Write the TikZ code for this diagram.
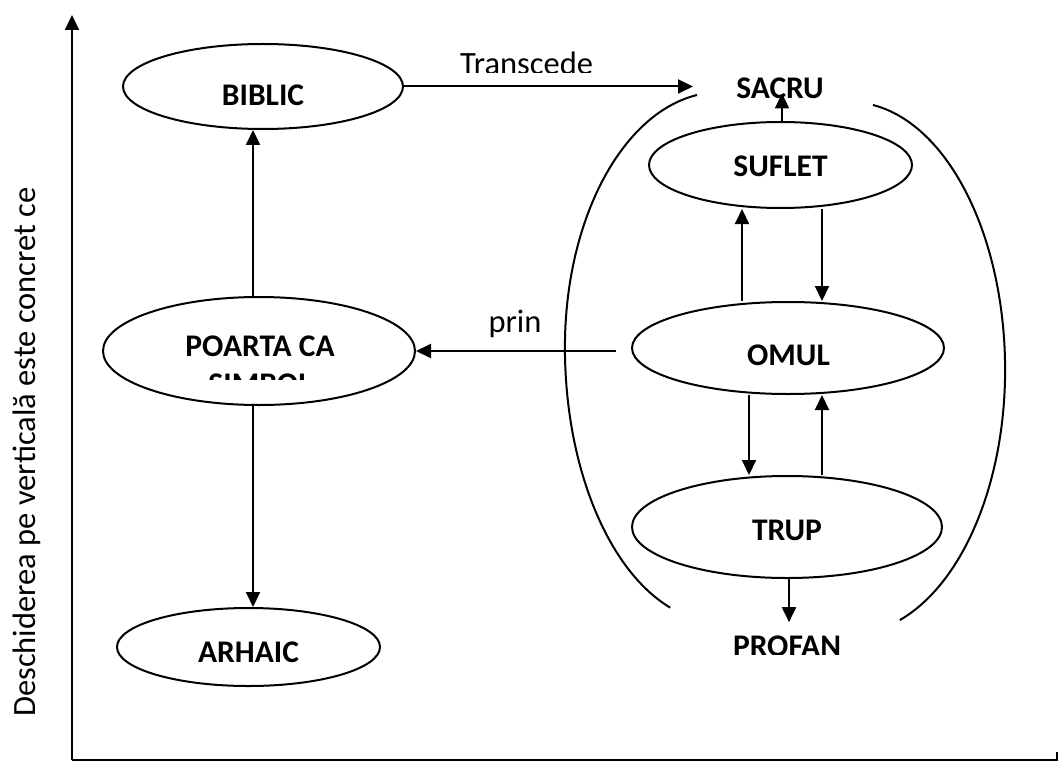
\documentclass[tikz,border=0pt]{standalone}
\usepackage{fontspec}
\setmainfont{Carlito}
\usetikzlibrary{arrows.meta,shapes.geometric}
\begin{document}
\begin{tikzpicture}[x=1pt,y=-1pt,
  oval/.style={draw,ellipse,line width=2pt,inner sep=0pt},
  lbl/.style={font=\fontsize{31.5}{38}\selectfont\bfseries,inner sep=0pt,anchor=base},
  txt/.style={font=\fontsize{32.5}{38}\selectfont,inner sep=0pt,anchor=base},
  arr/.style={line width=2pt,-{Triangle[length=15pt,width=14pt]}},
  ln/.style={line width=2pt}]
\useasboundingbox (0,0) rectangle (1059,762);

% axes
\coordinate (O) at (72,760);
\coordinate (Ytip) at (72,15);
\coordinate (Xend) at (1057,760);
\coordinate (Xtick) at (1057,752);
\draw[arr] (O) -- (Ytip);
\draw[ln] (O) -- (Xend) -- (Xtick);
\node[txt,rotate=90] (vlabel) at (35,452) {Deschiderea pe verticală este concret ce};

% left column
\node[oval,minimum width=280pt,minimum height=85pt] (biblic) at (263,86.5) {};
\node[lbl] (biblicT) at (263,106) {BIBLIC};
\node[oval,minimum width=312pt,minimum height=108pt] (poarta) at (259,351) {};
\begin{scope}
\clip (100,300) rectangle (420,379);
\node[lbl,align=center] (poartaT) at (260,394) {POARTA CA\\SIMBOL};
\end{scope}
\node[oval,minimum width=263pt,minimum height=78pt] (arhaic) at (248.5,647) {};
\node[lbl] (arhaicT) at (248.5,662) {ARHAIC};

% right column
\node[oval,minimum width=263pt,minimum height=86pt] (suflet) at (780.5,165) {};
\node[lbl] (sufletT) at (780.5,176.5) {SUFLET};
\node[oval,minimum width=312pt,minimum height=92pt] (omul) at (788,348) {};
\node[lbl] (omulT) at (788.5,365) {OMUL};
\node[oval,minimum width=310pt,minimum height=102pt] (trup) at (787,527) {};
\node[lbl] (trupT) at (787,540) {TRUP};
\node[lbl] (sacru) at (780,99) {SACRU};
\begin{scope}
\clip (700,600) rectangle (900,654);
\node[lbl] (profan) at (787,656) {PROFAN};
\end{scope}

% brackets
\draw[ln] (697,95) arc[start angle=261.5,end angle=180,x radius=155,y radius=255]
  arc[start angle=180,end angle=108.7,x radius=155,y radius=275];
\draw[ln] (873,105) arc[start angle=-81.5,end angle=0,x radius=155,y radius=268]
  arc[start angle=0,end angle=71.3,x radius=155,y radius=264];

% labels on connectors
\begin{scope}
\clip (440,40) rectangle (620,73);
\node[txt] (transcede) at (526.5,75) {Transcede};
\end{scope}
\node[txt] (prin) at (515,332) {prin};

% connectors
\coordinate (trEnd) at (693,86.5);
\draw[arr] (biblic.east) -- (trEnd);
\draw[arr] ([xshift=1.5pt]suflet.north) -- ([xshift=2pt,yshift=6pt]sacru.south);
\draw[arr] ([xshift=-6pt]poarta.north) -- ([xshift=-10pt]biblic.south);
\draw[arr] ([xshift=-6pt]poarta.south) -- ([xshift=4.5pt]arhaic.north);
\draw[arr] ([xshift=-15pt]omul.west |- poarta.east) -- (poarta.east);
\draw[arr] ([xshift=-46pt]omul.north) -- ([xshift=-38.5pt]suflet.south);
\draw[arr] ([xshift=41.5pt]suflet.south) -- ([xshift=34pt]omul.north);
\draw[arr] ([xshift=-39pt]omul.south) -- ([xshift=-38pt]trup.north);
\draw[arr] ([xshift=35pt]trup.north) -- ([xshift=34pt]omul.south);
\draw[arr] ([xshift=2pt]trup.south) -- ([xshift=2pt,yshift=13pt]profan.north);
\end{tikzpicture}
\end{document}
